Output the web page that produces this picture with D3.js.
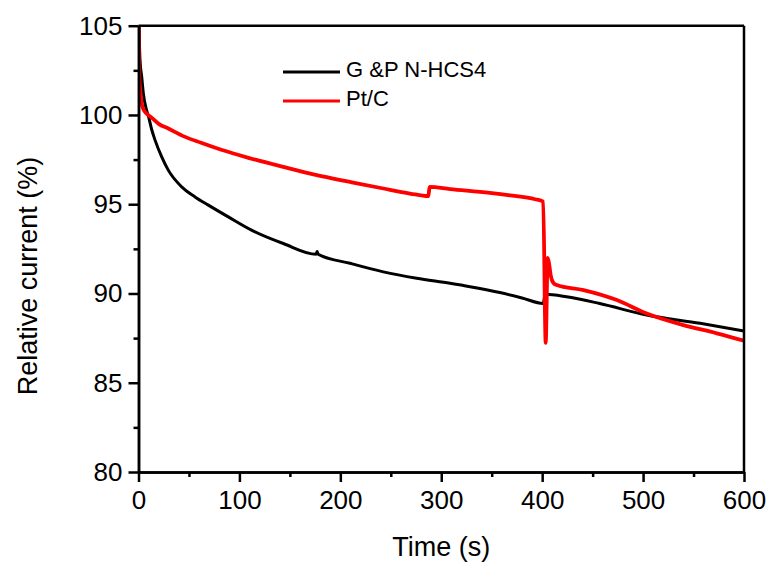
<!DOCTYPE html>
<html>
<head>
<meta charset="utf-8">
<script src="https://cdn.jsdelivr.net/npm/d3@7"></script>
<style>
  html, body { margin: 0; padding: 0; background: #fff; overflow: hidden; }
  svg { display: block; }
  text { font-family: "Liberation Sans", Arial, sans-serif; fill: #000; }
</style>
</head>
<body>
<svg id="chart"></svg>
<script>
// values
var seriesNames = ["G &P N-HCS4", "Pt/C"]
var seriesColors = ["#000000", "#ff0000"]

var gpTime = [0, 1.5, 3.2, 4.8, 8, 10, 13, 16.4, 23, 29.5, 42.8, 56, 69.2, 89, 112, 143.5, 176, 177, 178, 209.6, 242.6, 275.7, 308.7, 328.5, 358, 380, 401, 403, 424, 457, 503.6, 556.5, 600]
var gpValue = [106, 103.07, 102.13, 101.2, 100.27, 99.9, 99.2, 98.59, 97.65, 96.91, 95.97, 95.41, 94.95, 94.29, 93.55, 92.8, 92.2, 92.35, 92.2, 91.69, 91.21, 90.85, 90.57, 90.38, 90.05, 89.75, 89.44, 89.95, 89.82, 89.44, 88.79, 88.33, 87.9]

var ptTime = [0, 0.5, 0.8, 2, 3.2, 5, 8, 13, 20, 29.5, 45, 62, 82, 109, 143.5, 176.6, 209.6, 242.6, 269, 287.2, 288.5, 308.7, 348, 368, 393, 401, 403.5, 405.5, 407, 408.5, 411, 414.5, 441, 474, 503.6, 540, 573, 600]
var ptValue = [106, 104, 102.1, 101.2, 100.64, 100.3, 100.08, 99.85, 99.5, 99.24, 98.8, 98.44, 98.05, 97.6, 97.09, 96.63, 96.25, 95.88, 95.6, 95.45, 95.97, 95.85, 95.64, 95.5, 95.28, 95.15, 87.24, 92.0, 91.6, 91.0, 90.6, 90.47, 90.19, 89.63, 88.88, 88.23, 87.77, 87.35]

var xMajor = [0, 100, 200, 300, 400, 500, 600]
var xMinor = [50, 150, 250, 350, 450, 550]
var yMajor = [80, 85, 90, 95, 100, 105]
var yMinor = [82.5, 87.5, 92.5, 97.5, 102.5]

var outerWidth = 771, outerHeight = 567
var margins = {left: 138.5, top: 25.7, right: 27, bottom: 95}
var innerWidth = outerWidth - margins.left - margins.right
var innerHeight = outerHeight - margins.top - margins.bottom

var svg = d3.select("svg#chart")
    .attr("width", outerWidth)
    .attr("height", outerHeight)

var plot = svg.append("g")
    .attr("transform", "translate(" + margins.left + "," + margins.top + ")")

var xScale = d3.scaleLinear().domain([0, 600]).range([0, innerWidth])
var yScale = d3.scaleLinear().domain([80, 105]).range([innerHeight, 0])

plot.append("clipPath").attr("id", "clip")
    .append("rect").attr("width", innerWidth).attr("height", innerHeight)

var line = d3.line()
    .curve(d3.curveMonotoneX)
    .x(function(d) { return xScale(d[0]) })
    .y(function(d) { return yScale(d[1]) })

var gpData = gpTime.map(function(t, i) { return [t, gpValue[i]] })
var ptData = ptTime.map(function(t, i) { return [t, ptValue[i]] })

var curves = plot.append("g").attr("clip-path", "url(#clip)")
curves.append("path").datum(gpData)
    .attr("d", line).attr("fill", "none")
    .attr("stroke", seriesColors[0]).attr("stroke-width", 3)
curves.append("path").datum(ptData)
    .attr("d", line).attr("fill", "none")
    .attr("stroke", seriesColors[1]).attr("stroke-width", 3.8)

// axes
plot.append("g")
    .attr("transform", "translate(0," + innerHeight + ")")
    .call(d3.axisBottom(xScale).tickValues(xMajor).tickSize(10).tickSizeOuter(0).tickPadding(9))
plot.append("g")
    .attr("class", "minor")
    .attr("transform", "translate(0," + innerHeight + ")")
    .call(d3.axisBottom(xScale).tickValues(xMinor).tickSize(5).tickSizeOuter(0))
plot.append("g")
    .call(d3.axisLeft(yScale).tickValues(yMajor).tickSize(10).tickSizeOuter(0).tickPadding(6))
plot.append("g")
    .attr("class", "minor")
    .call(d3.axisLeft(yScale).tickValues(yMinor).tickSize(5).tickSizeOuter(0))

plot.selectAll(".minor .tick text").remove()
plot.selectAll(".domain").attr("stroke", "#000").attr("stroke-width", 2.5)
plot.selectAll(".tick line").attr("stroke", "#000").attr("stroke-width", 2.5)
plot.selectAll(".tick text").attr("font-size", "26px")
    .attr("font-family", "Liberation Sans, Arial, sans-serif").attr("fill", "#000")

// top and right frame
plot.append("line").attr("x1", 0).attr("x2", innerWidth).attr("y1", 0).attr("y2", 0)
    .attr("stroke", "#000").attr("stroke-width", 2.5)
plot.append("line").attr("x1", innerWidth).attr("x2", innerWidth).attr("y1", 0).attr("y2", innerHeight)
    .attr("stroke", "#000").attr("stroke-width", 2.5)

// titles
svg.append("text")
    .attr("x", margins.left + innerWidth / 2)
    .attr("y", 556)
    .attr("text-anchor", "middle")
    .attr("font-size", "27px")
    .text("Time (s)")

svg.append("text")
    .attr("transform", "translate(37," + 276 + ") rotate(-90)")
    .attr("text-anchor", "middle")
    .attr("font-size", "27px")
    .text("Relative current (%)")

// legend
var legendY = [72, 101]
seriesNames.forEach(function(name, i) {
    svg.append("line")
        .attr("x1", 283).attr("x2", 340)
        .attr("y1", legendY[i]).attr("y2", legendY[i])
        .attr("stroke", seriesColors[i]).attr("stroke-width", 3)
    svg.append("text")
        .attr("x", 346).attr("y", legendY[i] + 4.5)
        .attr("font-size", "22px")
        .text(name)
})
</script>
</body>
</html>
